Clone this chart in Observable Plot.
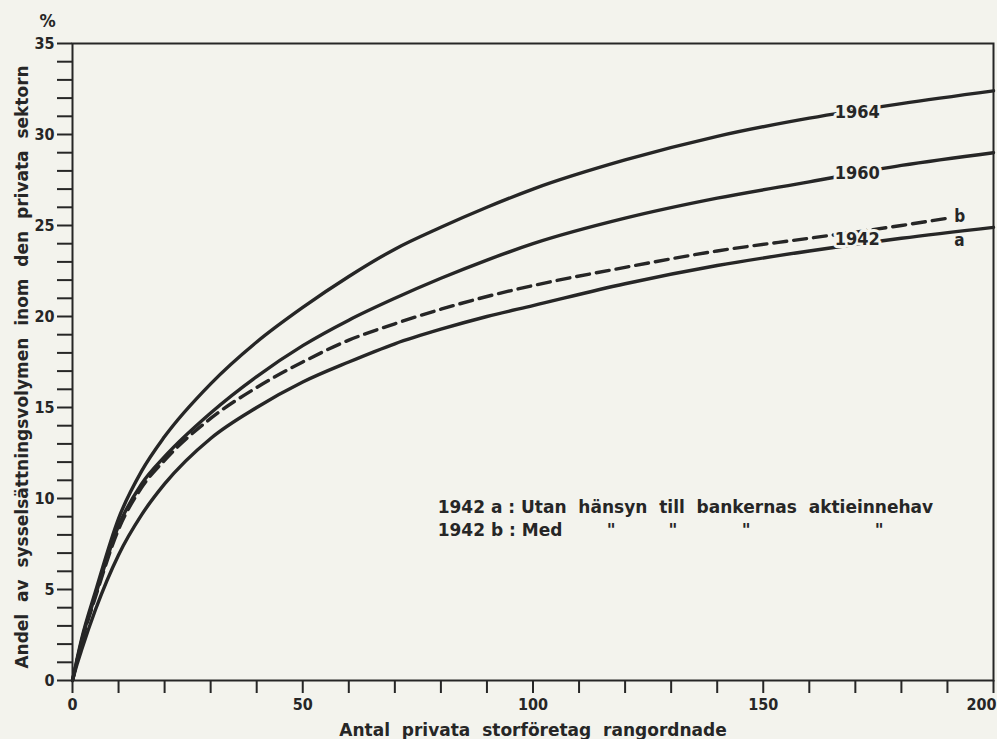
<!DOCTYPE html>
<html><head><meta charset="utf-8">
<script src="https://cdn.jsdelivr.net/npm/d3@7"></script>
<script src="https://cdn.jsdelivr.net/npm/@observablehq/plot@0.6"></script>
<style>
html,body{margin:0;padding:0;background:#f3f3ed;}
#chart svg{display:block;}
</style></head><body><div id="chart"></div>
<script>
// x: number of private large companies (ranked)
const xValues = [0,1,2,5,10,15,20,30,40,50,60,70,80,90,100,120,140,160,180,200];
const share1964 = [0,1.2,2.3,4.9,8.9,11.5,13.4,16.3,18.6,20.5,22.2,23.7,24.9,26.0,27.0,28.6,29.9,30.9,31.7,32.4];
const share1960 = [0,1.1,2.2,4.7,8.5,10.8,12.3,14.7,16.7,18.4,19.8,21.0,22.1,23.1,24.0,25.4,26.5,27.4,28.3,29.0];
const share1942a = [0,0.9,1.7,3.9,6.9,9.1,10.8,13.3,15.0,16.4,17.5,18.5,19.3,20.0,20.6,21.8,22.8,23.6,24.3,24.9];
const xValuesB = [0,1,2,5,10,15,20,30,40,50,60,70,80,90,100,120,140,160,180,190];
const share1942b = [0,1.1,2.1,4.6,8.3,10.6,12.1,14.4,16.1,17.5,18.7,19.6,20.4,21.1,21.7,22.7,23.6,24.3,25.0,25.4];

const xTicks = [0,10,20,30,40,50,60,70,80,90,100,110,120,130,140,150,160,170,180,190,200];
const xTickLabels = [0,50,100,150];
const xLastLabel = [200];
const yTicks = [0,1,2,3,4,5,6,7,8,9,10,11,12,13,14,15,16,17,18,19,20,21,22,23,24,25,26,27,28,29,30,31,32,33,34,35];
const yTickLabels = [0,5,10,15,20,25,30,35];

const curveLabels = ["1964","1960","1942"];
const curveLabelX = [170.4,170.4,170.4];
const curveLabelY = [31.2,27.85,24.25];
const abLabels = ["b","a"];
const abLabelX = [191.5,191.5];
const abLabelY = [25.5,24.2];

const yTitle = "Andel  av  sysselsättningsvolymen  inom  den  privata  sektorn";
const xTitle = "Antal  privata  storföretag  rangordnade";
const unitLabel = "%";
const noteLines = ["1942 a : Utan  hänsyn  till  bankernas  aktieinnehav", "1942 b : Med"];
const noteX = [79.3, 79.3];
const noteY = [9.5, 8.25];
const dittoX = [117, 130.4, 146.3, 175.2];

const bg = "#f3f3ed";
const ink = "#262626";

function rows(xs, ys){ return xs.map((x,i)=>({x, y: ys[i]})); }

const chart = Plot.plot({
  width: 997,
  height: 739,
  marginLeft: 72,
  marginRight: 4,
  marginTop: 43,
  marginBottom: 59,
  style: {background: bg, color: ink, fontFamily: "'DejaVu Sans Condensed','DejaVu Sans',sans-serif"},
  x: {domain: [0,200]},
  y: {domain: [0,35]},
  marks: [
    Plot.line(rows(xValues, share1964), {x:"x", y:"y", curve:"monotone-x", stroke: ink, strokeWidth: 3.4}),
    Plot.line(rows(xValues, share1960), {x:"x", y:"y", curve:"monotone-x", stroke: ink, strokeWidth: 3.4}),
    Plot.line(rows(xValues, share1942a), {x:"x", y:"y", curve:"monotone-x", stroke: ink, strokeWidth: 3.4}),
    Plot.line(rows(xValuesB, share1942b), {x:"x", y:"y", curve:"monotone-x", stroke: ink, strokeWidth: 3.4, strokeDasharray: "13,7"}),
    Plot.text(curveLabels, {x: (d,i)=>curveLabelX[i], y: (d,i)=>curveLabelY[i], text: d=>d, fill: ink, stroke: bg, strokeWidth: 6, fontSize: 18, fontWeight: "bold"}),
    Plot.text(abLabels, {x: (d,i)=>abLabelX[i], y: (d,i)=>abLabelY[i], text: d=>d, fill: ink, fontSize: 17, fontWeight: "bold", textAnchor: "start"}),
    Plot.text(noteLines, {x: (d,i)=>noteX[i], y: (d,i)=>noteY[i], text: d=>d, fill: ink, fontSize: 17, fontWeight: "bold", textAnchor: "start", fontFamily: "'DejaVu Sans',sans-serif"}),
    Plot.text(dittoX, {x: d=>d, y: noteY[1], text: ()=>"\"", fill: ink, fontSize: 17, fontWeight: "bold", fontFamily: "'DejaVu Sans',sans-serif"}),
    Plot.axisX({ticks: xTicks, tickSize: 13, tickPadding: 5, tickFormat: d => xTickLabels.includes(d) ? d : "", fontSize: 16, fontWeight: "bold", label: null, strokeWidth: 2}),
    Plot.text(xLastLabel, {x: d=>d, frameAnchor: "bottom", lineAnchor: "top", dy: 18, textAnchor: "end", dx: 3, fontSize: 16, fontWeight: "bold", fill: ink}),
    Plot.axisY({ticks: yTicks, tickSize: 15, tickPadding: 3, tickFormat: d => yTickLabels.includes(d) ? d : "", fontSize: 16, fontWeight: "bold", label: null, strokeWidth: 2}),
    Plot.frame({stroke: ink, strokeWidth: 2}),
    Plot.text([yTitle], {frameAnchor: "left", dx: -50, dy: 5, rotate: -90, textAnchor: "middle", lineAnchor: "middle", fontSize: 17, fontWeight: "bold", fill: ink, fontFamily: "'DejaVu Sans',sans-serif"}),
    Plot.text([xTitle], {frameAnchor: "bottom", dy: 55, fontSize: 17, fontWeight: "bold", fill: ink, fontFamily: "'DejaVu Sans',sans-serif"}),
    Plot.text([unitLabel], {frameAnchor: "top-left", dx: -33, dy: -29, fontSize: 18, fontWeight: "bold", fill: ink})
  ]
});
document.getElementById("chart").append(chart);
</script>
</body></html>
